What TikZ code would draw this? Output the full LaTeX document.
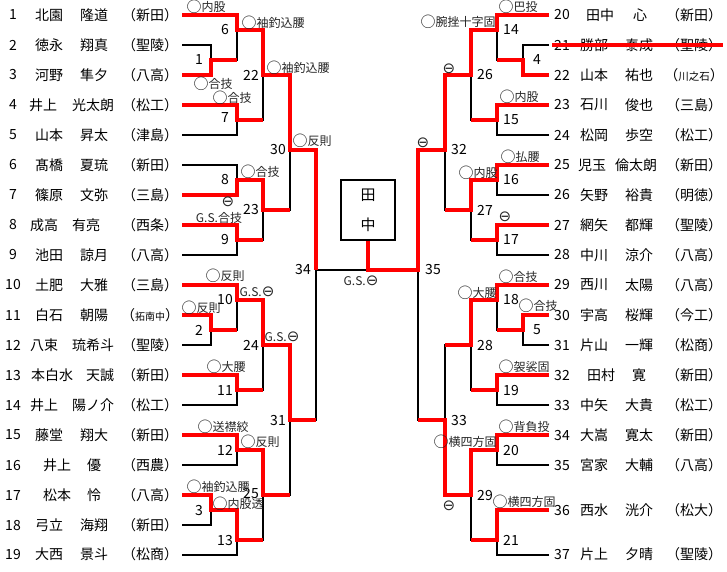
\documentclass[tikz,border=0pt]{standalone}
\usepackage{fontspec}
\setmainfont{Noto Sans CJK JP}
\newfontfamily\symfont{DejaVu Sans}
\usepackage{tikz}

% result marks
\newcommand{\winmark}{\raisebox{-1.2pt}{\fontsize{15}{12}\selectfont ○}}
\newcommand{\losemark}{{\symfont\fontsize{15}{12}\selectfont ⊖}}

\begin{document}
\begin{tikzpicture}[
        x=1pt, y=-1pt,
        win_line/.style={draw=red, line width=3.2pt},
        lose_line/.style={draw=black, line width=2.2pt},
        name_text/.style={inner sep=0pt, font=\fontsize{14}{14}\selectfont},
        no_text/.style={inner sep=0pt, font=\fontsize{14}{14}\selectfont},
        label_text/.style={inner sep=0pt, font=\fontsize{12}{12}\selectfont, color=black!85},
        final_box/.style={draw, line width=2pt, minimum width=54pt, minimum height=60pt, align=center, inner sep=0pt, font=\fontsize{15}{30}\selectfont}
    ]
        \useasboundingbox (0,0) rectangle (727,571);

        % player line ends, left
        \coordinate (pL1) at (182,15);  \coordinate (pL2) at (182,45);  \coordinate (pL3) at (182,75);
        \coordinate (pL4) at (182,105); \coordinate (pL5) at (182,135); \coordinate (pL6) at (182,165);
        \coordinate (pL7) at (182,195); \coordinate (pL8) at (182,225); \coordinate (pL9) at (182,255);
        \coordinate (pL10) at (182,285); \coordinate (pL11) at (182,315); \coordinate (pL12) at (182,345);
        \coordinate (pL13) at (182,375); \coordinate (pL14) at (182,405); \coordinate (pL15) at (182,435);
        \coordinate (pL16) at (182,465); \coordinate (pL17) at (182,495); \coordinate (pL18) at (182,525);
        \coordinate (pL19) at (182,555);

        % player line ends, right
        \coordinate (pR20) at (549,15);  \coordinate (pR21) at (549,45);  \coordinate (pR22) at (549,75);
        \coordinate (pR23) at (549,105); \coordinate (pR24) at (549,135); \coordinate (pR25) at (549,165);
        \coordinate (pR26) at (549,195); \coordinate (pR27) at (549,225); \coordinate (pR28) at (549,255);
        \coordinate (pR29) at (549,285); \coordinate (pR30) at (549,315); \coordinate (pR31) at (549,345);
        \coordinate (pR32) at (549,375); \coordinate (pR33) at (549,405); \coordinate (pR34) at (549,435);
        \coordinate (pR35) at (549,465); \coordinate (pR36) at (549,510); \coordinate (pR37) at (549,555);

        % matches, left
        \coordinate (m1) at (211,60);  \coordinate (m2) at (211,330); \coordinate (m3) at (211,510);
        \coordinate (m6) at (237,30);  \coordinate (m7) at (237,120); \coordinate (m8) at (237,180);
        \coordinate (m9) at (237,240); \coordinate (m10) at (237,300); \coordinate (m11) at (237,390);
        \coordinate (m12) at (237,450); \coordinate (m13) at (237,540);
        \coordinate (m22) at (263,75); \coordinate (m23) at (263,210); \coordinate (m24) at (263,345);
        \coordinate (m25) at (263,495);
        \coordinate (m30) at (290,150); \coordinate (m31) at (290,420);
        \coordinate (m34) at (316,270);

        % matches, right
        \coordinate (m4) at (523,60);  \coordinate (m5) at (523,330);
        \coordinate (m14) at (497,30); \coordinate (m15) at (497,120); \coordinate (m16) at (497,180);
        \coordinate (m17) at (497,240); \coordinate (m18) at (497,300); \coordinate (m19) at (497,390);
        \coordinate (m20) at (497,450); \coordinate (m21) at (497,540);
        \coordinate (m26) at (471,75); \coordinate (m27) at (471,210); \coordinate (m28) at (471,345);
        \coordinate (m29) at (471,495);
        \coordinate (m32) at (445,150); \coordinate (m33) at (445,420);
        \coordinate (m35) at (418,270);

        % final
        \coordinate (fin) at (368,270);
        \node (champ) at (368,210) [final_box] {田\\中};

        % losers (black)
        \draw [lose_line] (pL2) -| (m1);  \draw [lose_line] (m1) -| (m6);
        \draw [lose_line] (pL5) -| (m7);  \draw [lose_line] (m7) -| (m22);
        \draw [lose_line] (pL6) -| (m8);  \draw [lose_line] (pL9) -| (m9);
        \draw [lose_line] (m9) -| (m23);  \draw [lose_line] (m23) -| (m30);
        \draw [lose_line] (pL12) -| (m2); \draw [lose_line] (m2) -| (m10);
        \draw [lose_line] (pL14) -| (m11); \draw [lose_line] (m11) -| (m24);
        \draw [lose_line] (pL16) -| (m12); \draw [lose_line] (pL18) -| (m3);
        \draw [lose_line] (pL19) -| (m13); \draw [lose_line] (m13) -| (m25);
        \draw [lose_line] (m25) -| (m31); \draw [lose_line] (m31) -| (m34);
        \draw [lose_line] (m34) -- (fin);

        \draw [lose_line] (pR21) -| (m4);  \draw [lose_line] (m4) -| (m14);
        \draw [lose_line] (pR24) -| (m15); \draw [lose_line] (m15) -| (m26);
        \draw [lose_line] (pR26) -| (m16); \draw [lose_line] (pR28) -| (m17);
        \draw [lose_line] (m17) -| (m27); \draw [lose_line] (m27) -| (m32);
        \draw [lose_line] (pR31) -| (m5);  \draw [lose_line] (m5) -| (m18);
        \draw [lose_line] (pR33) -| (m19); \draw [lose_line] (m19) -| (m28);
        \draw [lose_line] (m28) -| (m33); \draw [lose_line] (m33) -| (m35);
        \draw [lose_line] (pR35) -| (m20); \draw [lose_line] (pR37) -| (m21);
        \draw [lose_line] (m21) -| (m29);

        % winners (red)
        \draw [win_line] (pL1) -| (m6) -| (m22) -| (m30) -| (m34);
        \draw [win_line] (pL3) -| (m1) -- (m1 -| m6);
        \draw [win_line] (pL4) -| (m7) -- (m7 -| m22);
        \draw [win_line] (pL7) -| (m8) -| (m23) -- (m23 -| m30);
        \draw [win_line] (pL8) -| (m9) -- (m9 -| m23);
        \draw [win_line] (pL10) -| (m10) -| (m24) -| (m31) -- (m31 -| m34);
        \draw [win_line] (pL11) -| (m2) -- (m2 -| m10);
        \draw [win_line] (pL13) -| (m11) -- (m11 -| m24);
        \draw [win_line] (pL15) -| (m12) -| (m25) -- (m25 -| m31);
        \draw [win_line] (pL17) -| (m3) -| (m13) -- (m13 -| m25);

        \draw [win_line] (pR20) -| (m14) -| (m26) -| (m32) -| (m35) -- (fin) -- (champ.south);
        \draw [win_line] (pR22) -| (m4) -- (m4 -| m14);
        \draw [win_line] (pR23) -| (m15) -- (m15 -| m26);
        \draw [win_line] (pR25) -| (m16) -| (m27) -- (m27 -| m32);
        \draw [win_line] (pR27) -| (m17) -- (m17 -| m27);
        \draw [win_line] (pR29) -| (m18) -| (m28) -- (m28 -| m33);
        \draw [win_line] (pR30) -| (m5) -- (m5 -| m18);
        \draw [win_line] (pR32) -| (m19) -- (m19 -| m28);
        \draw [win_line] (pR34) -| (m20) -| (m29) -| (m33) -- (m33 -| m35);
        \draw [win_line] (pR36) -| (m21) -- (m21 -| m29);

        % match numbers
        \node (n1) at (m1) [no_text, xshift=-12pt] {1};
        \node (n2) at (m2) [no_text, xshift=-12pt] {2};
        \node (n3) at (m3) [no_text, xshift=-12pt] {3};
        \node (n6) at (m6) [no_text, xshift=-12pt] {6};
        \node (n7) at (m7) [no_text, xshift=-12pt, yshift=2pt] {7};
        \node (n8) at (m8) [no_text, xshift=-12pt] {8};
        \node (n9) at (m9) [no_text, xshift=-12pt] {9};
        \node (n10) at (m10) [no_text, xshift=-12pt] {10};
        \node (n11) at (m11) [no_text, xshift=-12pt] {11};
        \node (n12) at (m12) [no_text, xshift=-12pt] {12};
        \node (n13) at (m13) [no_text, xshift=-12pt] {13};
        \node (n22) at (m22) [no_text, xshift=-12pt] {22};
        \node (n23) at (m23) [no_text, xshift=-12pt] {23};
        \node (n24) at (m24) [no_text, xshift=-12pt] {24};
        \node (n25) at (m25) [no_text, xshift=-12pt, yshift=2pt] {25};
        \node (n30) at (m30) [no_text, xshift=-12pt] {30};
        \node (n31) at (m31) [no_text, xshift=-12pt] {31};
        \node (n34) at (m34) [no_text, xshift=-13pt] {34};

        \node (n4) at (m4) [no_text, xshift=14pt] {4};
        \node (n5) at (m5) [no_text, xshift=14pt] {5};
        \node (n14) at (m14) [no_text, xshift=14pt] {14};
        \node (n15) at (m15) [no_text, xshift=14pt] {15};
        \node (n16) at (m16) [no_text, xshift=14pt] {16};
        \node (n17) at (m17) [no_text, xshift=14pt] {17};
        \node (n18) at (m18) [no_text, xshift=14pt] {18};
        \node (n19) at (m19) [no_text, xshift=14pt] {19};
        \node (n20) at (m20) [no_text, xshift=14pt] {20};
        \node (n21) at (m21) [no_text, xshift=14pt] {21};
        \node (n26) at (m26) [no_text, xshift=14pt] {26};
        \node (n27) at (m27) [no_text, xshift=14pt] {27};
        \node (n28) at (m28) [no_text, xshift=14pt] {28};
        \node (n29) at (m29) [no_text, xshift=14pt] {29};
        \node (n32) at (m32) [no_text, xshift=14pt] {32};
        \node (n33) at (m33) [no_text, xshift=14pt] {33};
        \node (n35) at (m35) [no_text, xshift=15pt] {35};

        % players, left
        \node (l1n) at (13,15) [no_text] {1};   \node (l1f) at (49,15) [name_text] {北園};   \node (l1g) at (94,15) [name_text] {隆道};   \node (l1s) at (150,15) [name_text] {（新田）};
        \node (l2n) at (13,45) [no_text] {2};   \node (l2f) at (49,45) [name_text] {徳永};   \node (l2g) at (94,45) [name_text] {翔真};   \node (l2s) at (150,45) [name_text] {（聖陵）};
        \node (l3n) at (13,75) [no_text] {3};   \node (l3f) at (49,75) [name_text] {河野};   \node (l3g) at (94,75) [name_text] {隼夕};   \node (l3s) at (150,75) [name_text] {（八高）};
        \node (l4n) at (13,105) [no_text] {4};  \node (l4f) at (43,105) [name_text] {井上};  \node (l4g) at (93,105) [name_text] {光太朗}; \node (l4s) at (150,105) [name_text] {（松工）};
        \node (l5n) at (13,135) [no_text] {5};  \node (l5f) at (49,135) [name_text] {山本};  \node (l5g) at (94,135) [name_text] {昇太};  \node (l5s) at (150,135) [name_text] {（津島）};
        \node (l6n) at (13,165) [no_text] {6};  \node (l6f) at (49,165) [name_text] {髙橋};  \node (l6g) at (94,165) [name_text] {夏琉};  \node (l6s) at (150,165) [name_text] {（新田）};
        \node (l7n) at (13,195) [no_text] {7};  \node (l7f) at (49,195) [name_text] {篠原};  \node (l7g) at (94,195) [name_text] {文弥};  \node (l7s) at (150,195) [name_text] {（三島）};
        \node (l8n) at (13,225) [no_text] {8};  \node (l8f) at (44,225) [name_text] {成高};  \node (l8g) at (86,225) [name_text] {有亮};  \node (l8s) at (150,225) [name_text] {（西条）};
        \node (l9n) at (13,255) [no_text] {9};  \node (l9f) at (49,255) [name_text] {池田};  \node (l9g) at (94,255) [name_text] {諒月};  \node (l9s) at (150,255) [name_text] {（八高）};
        \node (l10n) at (13,285) [no_text] {10}; \node (l10f) at (49,285) [name_text] {土肥}; \node (l10g) at (94,285) [name_text] {大雅}; \node (l10s) at (150,285) [name_text] {（三島）};
        \node (l11n) at (13,315) [no_text] {11}; \node (l11f) at (49,315) [name_text] {白石}; \node (l11g) at (94,315) [name_text] {朝陽}; \node (l11s) at (150,315) [name_text] {（{\fontsize{10}{10}\selectfont 拓南中}）};
        \node (l12n) at (13,345) [no_text] {12}; \node (l12f) at (44,345) [name_text] {八束}; \node (l12g) at (93,345) [name_text] {琉希斗}; \node (l12s) at (150,345) [name_text] {（聖陵）};
        \node (l13n) at (13,375) [no_text] {13}; \node (l13f) at (52,375) [name_text] {本白水}; \node (l13g) at (100,375) [name_text] {天誠}; \node (l13s) at (150,375) [name_text] {（新田）};
        \node (l14n) at (13,405) [no_text] {14}; \node (l14f) at (44,405) [name_text] {井上}; \node (l14g) at (93,405) [name_text] {陽ノ介}; \node (l14s) at (150,405) [name_text] {（松工）};
        \node (l15n) at (13,435) [no_text] {15}; \node (l15f) at (49,435) [name_text] {藤堂}; \node (l15g) at (94,435) [name_text] {翔大}; \node (l15s) at (150,435) [name_text] {（新田）};
        \node (l16n) at (13,465) [no_text] {16}; \node (l16f) at (57,465) [name_text] {井上}; \node (l16g) at (94,465) [name_text] {優}; \node (l16s) at (150,465) [name_text] {（西農）};
        \node (l17n) at (13,495) [no_text] {17}; \node (l17f) at (57,495) [name_text] {松本}; \node (l17g) at (94,495) [name_text] {怜}; \node (l17s) at (150,495) [name_text] {（八高）};
        \node (l18n) at (13,525) [no_text] {18}; \node (l18f) at (49,525) [name_text] {弓立}; \node (l18g) at (94,525) [name_text] {海翔}; \node (l18s) at (150,525) [name_text] {（新田）};
        \node (l19n) at (13,554) [no_text] {19}; \node (l19f) at (49,554) [name_text] {大西}; \node (l19g) at (94,554) [name_text] {景斗}; \node (l19s) at (150,554) [name_text] {（松商）};

        % players, right
        \node (r20n) at (562,15) [no_text] {20}; \node (r20f) at (600,15) [name_text] {田中}; \node (r20g) at (640,15) [name_text] {心}; \node (r20s) at (694,15) [name_text] {（新田）};
        \node (r21n) at (562,45) [no_text] {21}; \node (r21f) at (594,45) [name_text] {勝部}; \node (r21g) at (639,45) [name_text] {泰成}; \node (r21s) at (694,45) [name_text] {（聖陵）};
        \node (r22n) at (562,75) [no_text] {22}; \node (r22f) at (594,75) [name_text] {山本}; \node (r22g) at (639,75) [name_text] {祐也}; \node (r22s) at (694,75) [name_text] {（{\fontsize{10.5}{10}\selectfont 川之石}）};
        \node (r23n) at (562,105) [no_text] {23}; \node (r23f) at (594,105) [name_text] {石川}; \node (r23g) at (639,105) [name_text] {俊也}; \node (r23s) at (694,105) [name_text] {（三島）};
        \node (r24n) at (562,135) [no_text] {24}; \node (r24f) at (594,135) [name_text] {松岡}; \node (r24g) at (639,135) [name_text] {歩空}; \node (r24s) at (694,135) [name_text] {（松工）};
        \node (r25n) at (562,165) [no_text] {25}; \node (r25f) at (592,165) [name_text] {児玉}; \node (r25g) at (636,165) [name_text] {倫太朗}; \node (r25s) at (694,165) [name_text] {（新田）};
        \node (r26n) at (562,195) [no_text] {26}; \node (r26f) at (594,195) [name_text] {矢野}; \node (r26g) at (639,195) [name_text] {裕貴}; \node (r26s) at (694,195) [name_text] {（明徳）};
        \node (r27n) at (562,225) [no_text] {27}; \node (r27f) at (594,225) [name_text] {網矢}; \node (r27g) at (639,225) [name_text] {都輝}; \node (r27s) at (694,225) [name_text] {（聖陵）};
        \node (r28n) at (562,255) [no_text] {28}; \node (r28f) at (594,255) [name_text] {中川}; \node (r28g) at (639,255) [name_text] {涼介}; \node (r28s) at (694,255) [name_text] {（八高）};
        \node (r29n) at (562,285) [no_text] {29}; \node (r29f) at (594,285) [name_text] {西川}; \node (r29g) at (639,285) [name_text] {太陽}; \node (r29s) at (694,285) [name_text] {（八高）};
        \node (r30n) at (562,315) [no_text] {30}; \node (r30f) at (594,315) [name_text] {宇高}; \node (r30g) at (639,315) [name_text] {桜輝}; \node (r30s) at (694,315) [name_text] {（今工）};
        \node (r31n) at (562,345) [no_text] {31}; \node (r31f) at (594,345) [name_text] {片山}; \node (r31g) at (639,345) [name_text] {一輝}; \node (r31s) at (694,345) [name_text] {（松商）};
        \node (r32n) at (562,375) [no_text] {32}; \node (r32f) at (601,375) [name_text] {田村}; \node (r32g) at (639,375) [name_text] {寛}; \node (r32s) at (694,375) [name_text] {（新田）};
        \node (r33n) at (562,405) [no_text] {33}; \node (r33f) at (594,405) [name_text] {中矢}; \node (r33g) at (639,405) [name_text] {大貴}; \node (r33s) at (694,405) [name_text] {（松工）};
        \node (r34n) at (562,435) [no_text] {34}; \node (r34f) at (594,435) [name_text] {大嵩}; \node (r34g) at (639,435) [name_text] {寛太}; \node (r34s) at (694,435) [name_text] {（新田）};
        \node (r35n) at (562,465) [no_text] {35}; \node (r35f) at (594,465) [name_text] {宮家}; \node (r35g) at (639,465) [name_text] {大輔}; \node (r35s) at (694,465) [name_text] {（八高）};
        \node (r36n) at (562,510) [no_text] {36}; \node (r36f) at (594,510) [name_text] {西水}; \node (r36g) at (639,510) [name_text] {洸介}; \node (r36s) at (694,510) [name_text] {（松大）};
        \node (r37n) at (562,554) [no_text] {37}; \node (r37f) at (594,554) [name_text] {片上}; \node (r37g) at (639,554) [name_text] {夕晴}; \node (r37s) at (694,554) [name_text] {（聖陵）};

        % withdrawn
        \coordinate (x21a) at (552,45);
        \coordinate (x21b) at (723,45);
        \draw [win_line] (x21a) -- (x21b);

        % results, left
        \node (lb1) at (206,7) [label_text] {\winmark 内股};
        \node (lb2) at (273,23) [label_text] {\winmark 袖釣込腰};
        \node (lb3) at (298,68) [label_text] {\winmark 袖釣込腰};
        \node (lb4) at (213,84) [label_text] {\winmark 合技};
        \node (lb5) at (232,98) [label_text] {\winmark 合技};
        \node (lb6) at (312,141) [label_text] {\winmark 反則};
        \node (lb7) at (260,172) [label_text] {\winmark 合技};
        \node (lb8) at (228,202) [label_text] {\losemark};
        \node (lb9) at (219,218) [label_text] {G.S.合技};
        \node (lb10) at (225,276) [label_text] {\winmark 反則};
        \node (lb11) at (257,292) [label_text] {G.S.\losemark};
        \node (lb12) at (201,308) [label_text] {\winmark 反則};
        \node (lb13) at (282,337) [label_text] {G.S.\losemark};
        \node (lb14) at (226,367) [label_text] {\winmark 大腰};
        \node (lb15) at (223,427) [label_text] {\winmark 送襟絞};
        \node (lb16) at (260,442) [label_text] {\winmark 反則};
        \node (lb17) at (218,487) [label_text] {\winmark 袖釣込腰};
        \node (lb18) at (238,504) [label_text] {\winmark 内股透};
        \node (lb19) at (361,281) [label_text] {G.S.\losemark};

        % results, right
        \node (rb1) at (518,7) [label_text] {\winmark 巴投};
        \node (rb2) at (458,22) [label_text] {\winmark 腕挫十字固};
        \node (rb3) at (449,69) [label_text] {\losemark};
        \node (rb4) at (519,97) [label_text] {\winmark 内股};
        \node (rb5) at (423,143) [label_text] {\losemark};
        \node (rb6) at (520,157) [label_text] {\winmark 払腰};
        \node (rb7) at (478,173) [label_text] {\winmark 内股};
        \node (rb8) at (505,217) [label_text] {\losemark};
        \node (rb9) at (518,277) [label_text] {\winmark 合技};
        \node (rb10) at (477,293) [label_text] {\winmark 大腰};
        \node (rb11) at (538,306) [label_text] {\winmark 合技};
        \node (rb12) at (524,367) [label_text] {\winmark 袈裟固};
        \node (rb13) at (524,427) [label_text] {\winmark 背負投};
        \node (rb14) at (465,442) [label_text] {\winmark 横四方固};
        \node (rb15) at (524,502) [label_text] {\winmark 横四方固};
        \node (rb16) at (449,506) [label_text] {\losemark};

    \end{tikzpicture}
\end{document}
